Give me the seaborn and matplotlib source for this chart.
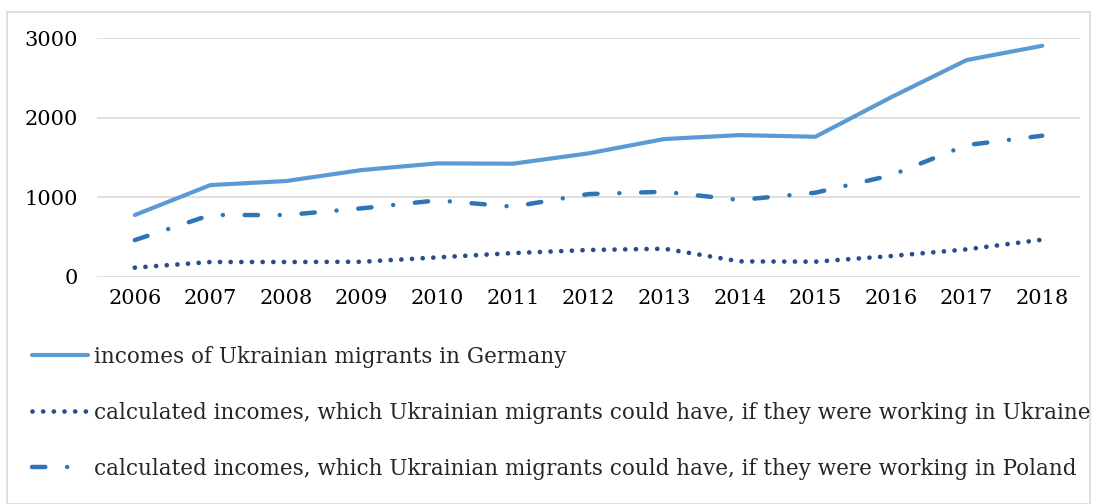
import matplotlib
matplotlib.use("Agg")
import matplotlib.pyplot as plt
import seaborn as sns
import pandas as pd
from matplotlib.patches import Rectangle

years = ["2006", "2007", "2008", "2009", "2010", "2011", "2012",
         "2013", "2014", "2015", "2016", "2017", "2018"]
germany = [776, 1153, 1204, 1342, 1426, 1422, 1552, 1732, 1782, 1761, 2257, 2726, 2906]
ukraine = [114, 185, 185, 188, 243, 297, 336, 352, 193, 189, 260, 344, 466]
poland = [461, 776, 776, 860, 961, 881, 1040, 1069, 965, 1057, 1275, 1656, 1774]

labels = [
    "incomes of Ukrainian migrants in Germany",
    "calculated incomes, which Ukrainian migrants could have, if they were working in Ukraine",
    "calculated incomes, which Ukrainian migrants could have, if they were working in Poland",
]

sns.set_theme(style="white")
plt.rcParams['font.family'] = ['DejaVu Serif']

fig = plt.figure(figsize=(10.97, 5.04), dpi=100)
ax = fig.add_axes([97/1097, 1-276.7/504, (1080-97)/1097, (276.7-38.3)/504])

df = pd.DataFrame({"year": years, "germany": germany, "ukraine": ukraine, "poland": poland})
xpos = list(range(len(years)))

sns.lineplot(x=xpos, y=df["germany"], ax=ax, color="#5B9BD5", linewidth=3.0,
             solid_capstyle="round", label=labels[0])
sns.lineplot(x=xpos, y=df["ukraine"], ax=ax, color="#2B4C8C", linewidth=3.4,
             linestyle=(0, (0.01, 2.25)), dash_capstyle="round", label=labels[1])
sns.lineplot(x=xpos, y=df["poland"], ax=ax, color="#2E75B6", linewidth=3.2,
             linestyle=(0, (3.0, 4.9, 0.01, 4.9)), dash_capstyle="round", label=labels[2])

ax.set_xlim(-0.5, len(years) - 0.5)
ax.set_ylim(0, 3000)
ax.set_yticks([0, 1000, 2000, 3000])
ax.set_yticklabels(["0", "1000", "2000", "3000"])
ax.set_xticks(xpos)
ax.set_xticklabels(years)
ax.grid(axis="y", color="#D9D9D9", linewidth=1.2)
ax.grid(axis="x", visible=False)
for s in ax.spines.values():
    s.set_visible(False)
ax.tick_params(axis="both", length=0, labelsize=15, colors="black")
ax.tick_params(axis="y", pad=14)
ax.tick_params(axis="x", pad=9)
ax.set_xlabel("")
ax.set_ylabel("")

handles, lbls = ax.get_legend_handles_labels()
ax.get_legend().remove()
fig.legend(handles, lbls, loc="upper left", bbox_to_anchor=(32/1097, 1-346/504),
           frameon=False, prop={"family": "DejaVu Serif", "size": 15.5},
           handlelength=2.6, handletextpad=0.3,
           labelspacing=1.58, borderaxespad=0, borderpad=0)

fig.patches.append(Rectangle((7/1097, 0), 1 - 14/1097, 1 - 12/504,
                             transform=fig.transFigure, fill=False,
                             edgecolor="#D9D9D9", linewidth=1.2))

fig.savefig("out.png", dpi=100)
